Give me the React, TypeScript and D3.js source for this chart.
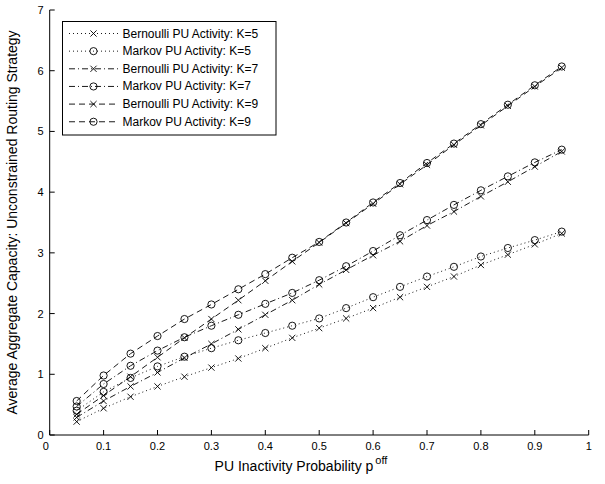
import React from "react";
import * as d3 from "d3";

const pOff = [0.05, 0.1, 0.15, 0.2, 0.25, 0.3, 0.35, 0.4, 0.45, 0.5, 0.55, 0.6, 0.65, 0.7, 0.75, 0.8, 0.85, 0.9, 0.95];

const bernoulliK5 = [0.22, 0.44, 0.63, 0.8, 0.96, 1.11, 1.26, 1.43, 1.6, 1.76, 1.92, 2.09, 2.27, 2.44, 2.61, 2.8, 2.97, 3.14, 3.32];
const markovK5 = [0.4, 0.71, 0.94, 1.13, 1.29, 1.43, 1.56, 1.68, 1.8, 1.92, 2.09, 2.27, 2.44, 2.61, 2.77, 2.94, 3.08, 3.21, 3.35];
const bernoulliK7 = [0.29, 0.56, 0.8, 1.03, 1.27, 1.5, 1.74, 1.98, 2.22, 2.48, 2.72, 2.96, 3.19, 3.45, 3.68, 3.93, 4.17, 4.42, 4.67];
const markovK7 = [0.47, 0.84, 1.14, 1.39, 1.61, 1.8, 1.98, 2.16, 2.34, 2.55, 2.78, 3.03, 3.29, 3.54, 3.79, 4.03, 4.26, 4.49, 4.7];
const bernoulliK9 = [0.34, 0.65, 0.96, 1.28, 1.6, 1.91, 2.22, 2.54, 2.86, 3.17, 3.49, 3.81, 4.13, 4.45, 4.78, 5.1, 5.42, 5.74, 6.05];
const markovK9 = [0.56, 0.98, 1.34, 1.63, 1.91, 2.15, 2.4, 2.65, 2.92, 3.18, 3.5, 3.83, 4.15, 4.48, 4.8, 5.12, 5.44, 5.76, 6.07];

const seriesLabels = [
  "Bernoulli PU Activity: K=5",
  "Markov PU Activity: K=5",
  "Bernoulli PU Activity: K=7",
  "Markov PU Activity: K=7",
  "Bernoulli PU Activity: K=9",
  "Markov PU Activity: K=9",
];
const seriesValues = [bernoulliK5, markovK5, bernoulliK7, markovK7, bernoulliK9, markovK9];
const seriesMarkers = ["x", "o", "x", "o", "x", "o"];
const seriesDashes = ["1,3", "1,3", "6,3,1,3", "6,3,1,3", "6,4", "6,4"];

const xTicks = [0, 0.1, 0.2, 0.3, 0.4, 0.5, 0.6, 0.7, 0.8, 0.9, 1];
const yTicks = [0, 1, 2, 3, 4, 5, 6, 7];

const W = 605;
const H = 484;
const left = 49.7;
const right = 588.7;
const top = 10;
const bottom = 435;
const FONT = "'Liberation Sans', Arial, Helvetica, sans-serif";

function Marker({ type, x, y }: { type: string; x: number; y: number }) {
  if (type === "o") {
    return <circle cx={x} cy={y} r={3.6} fill="none" stroke="#000" strokeWidth={0.9} />;
  }
  const s = 3.1;
  return (
    <path
      d={`M${x - s},${y - s}L${x + s},${y + s}M${x - s},${y + s}L${x + s},${y - s}`}
      stroke="#000"
      strokeWidth={0.9}
      fill="none"
    />
  );
}

export default function App() {
  const x = d3.scaleLinear().domain([0, 1]).range([left, right]);
  const y = d3.scaleLinear().domain([0, 7]).range([bottom, top]);
  const line = d3
    .line<number>()
    .x((_, i) => x(pOff[i]))
    .y((d) => y(d));

  const legX = 62.5;
  const legY = 21.5;
  const legW = 213.5;
  const legH = 113.5;
  const rowY0 = 33.5;
  const rowStep = 17.65;

  return (
    <svg
      width={W}
      height={H}
      style={{ position: "absolute", left: 0, top: 0, background: "#fff" }}
      fontFamily={FONT}
    >
      <rect x={0} y={0} width={W} height={H} fill="#fff" />
      {/* axes */}
      <line x1={left} x2={left} y1={top} y2={bottom} stroke="#000" strokeWidth={1} />
      <line x1={left} x2={right} y1={bottom} y2={bottom} stroke="#000" strokeWidth={1} />
      {xTicks.map((t) => (
        <g key={"xt" + t}>
          <line x1={x(t)} x2={x(t)} y1={bottom} y2={bottom - 5} stroke="#000" strokeWidth={1} />
          <text x={t === 0 ? x(t) - 4 : x(t)} y={bottom + 15} fontSize={11} textAnchor="middle">
            {String(t)}
          </text>
        </g>
      ))}
      {yTicks.map((t) => (
        <g key={"yt" + t}>
          <line x1={left} x2={left + 5} y1={y(t)} y2={y(t)} stroke="#000" strokeWidth={1} />
          <text x={left - 6} y={y(t) + 4} fontSize={11} textAnchor="end">
            {String(t)}
          </text>
        </g>
      ))}
      <text x={301} y={471} fontSize={14} textAnchor="middle">
        PU Inactivity Probability p
        <tspan dy={-7} fontSize={11} dx={2}>off</tspan>
      </text>
      <text
        transform={`translate(17,${(top + bottom) / 2}) rotate(-90)`}
        fontSize={14}
        textAnchor="middle"
      >
        Average Aggregate Capacity: Unconstrained Routing Strategy
      </text>

      {/* series */}
      {seriesValues.map((vals, si) => (
        <g key={"s" + si}>
          <path
            d={line(vals) || ""}
            fill="none"
            stroke="#000"
            strokeWidth={0.9}
            strokeDasharray={seriesDashes[si]}
          />
          {vals.map((v, i) => (
            <Marker key={i} type={seriesMarkers[si]} x={x(pOff[i])} y={y(v)} />
          ))}
        </g>
      ))}

      {/* legend */}
      <rect x={legX} y={legY} width={legW} height={legH} fill="#fff" stroke="#000" strokeWidth={1} />
      {seriesLabels.map((lab, i) => {
        const ry = rowY0 + i * rowStep;
        return (
          <g key={"l" + i}>
            <line
              x1={69}
              x2={118}
              y1={ry}
              y2={ry}
              stroke="#000"
              strokeWidth={0.9}
              strokeDasharray={seriesDashes[i]}
            />
            <Marker type={seriesMarkers[i]} x={93.5} y={ry} />
            <text x={122.5} y={ry + 4} fontSize={12}>
              {lab}
            </text>
          </g>
        );
      })}
    </svg>
  );
}
